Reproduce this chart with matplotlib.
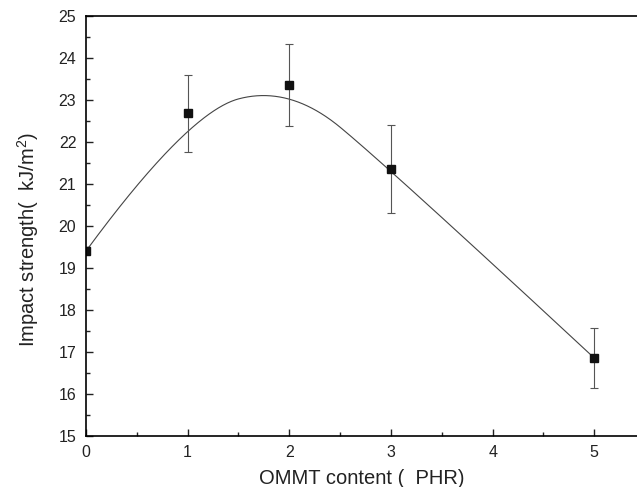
import numpy as np
import matplotlib
matplotlib.use("Agg")
import matplotlib.pyplot as plt
from matplotlib.ticker import MultipleLocator

# ---DATA
ommt = np.array([0, 1, 2, 3, 5])
impact = np.array([19.40, 22.70, 23.35, 21.35, 16.85])
err_top = np.array([19.40, 23.60, 24.33, 22.41, 17.56])
err_bottom = np.array([19.40, 21.76, 22.38, 20.30, 16.14])

x_label = "OMMT content (  PHR)"
y_label = "Impact strength(  kJ/m$^2$)"


# ---B-SPLINE THROUGH THE POINTS AS CONTROL POLYGON (clamped, quadratic)
def bspline(px, py, k=2, n=400):
    m = len(px)
    inner = np.linspace(0, 1, m - k + 1)[1:-1]
    t = np.concatenate([np.zeros(k + 1), inner, np.ones(k + 1)])
    u = np.linspace(0, 1, n)
    u[-1] -= 1e-12
    # cox - de boor
    N = np.array([((t[i] <= u) & (u < t[i + 1])).astype(float) for i in range(len(t) - 1)])
    for d in range(1, k + 1):
        new = np.zeros((len(t) - 1 - d, n))
        for i in range(len(t) - 1 - d):
            a = np.zeros(n)
            b = np.zeros(n)
            if t[i + d] != t[i]:
                a = (u - t[i]) / (t[i + d] - t[i]) * N[i]
            if t[i + d + 1] != t[i + 1]:
                b = (t[i + d + 1] - u) / (t[i + d + 1] - t[i + 1]) * N[i + 1]
            new[i] = a + b
        N = new
    return N.T @ px, N.T @ py


cx, cy = bspline(ommt.astype(float), impact)

# ---PLOT
plt.rcParams['font.family'] = ['Liberation Sans', 'DejaVu Sans']
plt.rcParams['mathtext.default'] = 'regular'

fig = plt.figure(figsize=(6.37, 4.87), dpi=100)
ax = fig.add_axes([0.135, 0.1053, 0.865, 0.8618])

ax.plot(cx, cy, '-', color='#444444', lw=0.8)
ax.errorbar(ommt, impact, yerr=[impact - err_bottom, err_top - impact],
            fmt='s', color='#111111', ms=6, ecolor='#555555', elinewidth=0.8,
            capsize=3, capthick=0.8)

ax.set_xlim(0, 5.42)
ax.set_ylim(15, 25)
ax.xaxis.set_major_locator(MultipleLocator(1))
ax.xaxis.set_minor_locator(MultipleLocator(0.5))
ax.yaxis.set_major_locator(MultipleLocator(1))
ax.yaxis.set_minor_locator(MultipleLocator(0.5))
ax.tick_params(which='both', direction='in', top=False, right=False,
               labelsize=11.5, colors='#222222')
ax.tick_params(which='major', length=5, width=1, pad=7)
ax.tick_params(which='minor', length=3, width=1)
ax.spines['right'].set_visible(False)
for s in ['left', 'bottom', 'top']:
    ax.spines[s].set_linewidth(1.2)

ax.set_xlabel(x_label, fontsize=14.5, color='#222222', labelpad=6)
ax.set_ylabel(y_label, fontsize=14.5, color='#222222')
ax.yaxis.set_label_coords(-0.081, 0.467)

fig.savefig("out.png", dpi=100)
